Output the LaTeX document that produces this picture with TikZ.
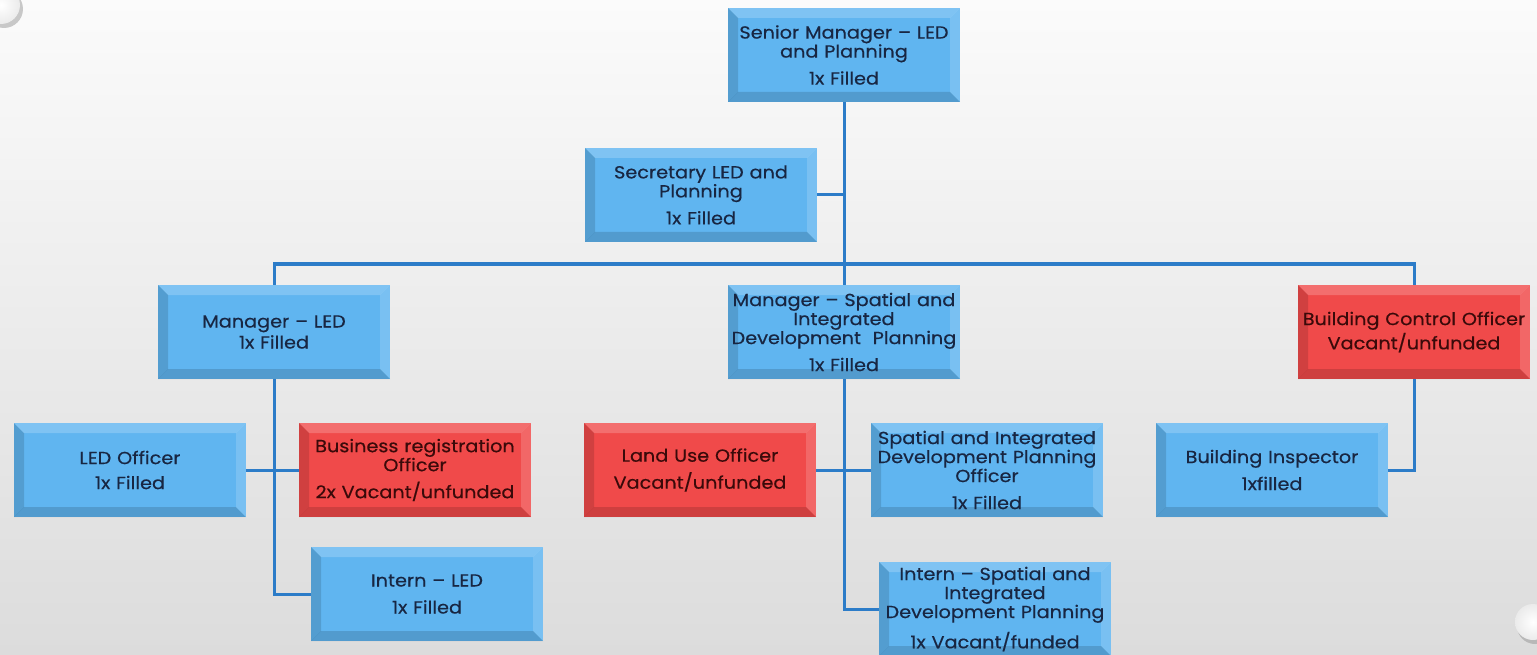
\documentclass[tikz,border=0pt]{standalone}
\usepackage{fontspec}
\setmainfont{Poppins}
\newfontfamily\boxfont{Poppins}[FakeBold=0.45,FakeStretch=1.1]
\usetikzlibrary{calc}

\definecolor{boxblue}{RGB}{96,181,240}
\definecolor{boxred}{RGB}{240,74,74}
\definecolor{bluetext}{RGB}{24,38,66}
\definecolor{redtext}{RGB}{58,10,10}
\definecolor{linkblue}{RGB}{44,124,200}
\definecolor{bgtop}{RGB}{251,251,251}
\definecolor{bgbottom}{RGB}{220,220,220}

% bevelled faces of a box, drawn inside its own outline
\newcommand\bevelfaces{%
  \fill[black,opacity=0.13]
    (path picture bounding box.north west) -- (path picture bounding box.south west)
    -- ($(path picture bounding box.south west)+(10pt,10pt)$)
    -- ($(path picture bounding box.north west)+(10pt,-10pt)$) -- cycle;
  \fill[black,opacity=0.14]
    (path picture bounding box.south west) -- (path picture bounding box.south east)
    -- ($(path picture bounding box.south east)+(-10pt,10pt)$)
    -- ($(path picture bounding box.south west)+(10pt,10pt)$) -- cycle;
  \fill[white,opacity=0.20]
    (path picture bounding box.north west) -- (path picture bounding box.north east)
    -- ($(path picture bounding box.north east)+(-10pt,-10pt)$)
    -- ($(path picture bounding box.north west)+(10pt,-10pt)$) -- cycle;
  \fill[white,opacity=0.16]
    (path picture bounding box.north east) -- (path picture bounding box.south east)
    -- ($(path picture bounding box.south east)+(-10pt,10pt)$)
    -- ($(path picture bounding box.north east)+(-10pt,-10pt)$) -- cycle;
}

\tikzset{
  orgbox/.style={rectangle, minimum width=232pt, minimum height=94pt,
    inner sep=0pt, text width=232pt, align=center,
    font=\boxfont\fontsize{17.5}{19}\selectfont, path picture={\bevelfaces}},
  bluebox/.style={orgbox, fill=boxblue, text=bluetext},
  redbox/.style={orgbox, fill=boxred, text=redtext},
  link/.style={draw=linkblue, line width=3pt},
}

\begin{document}
\begin{tikzpicture}[x=1pt,y=1pt]
  % slide background
  \shade[top color=bgtop, bottom color=bgbottom] (0,0) rectangle (1537,-655);
  \useasboundingbox (0,0) rectangle (1537,-655);

  % corner ornaments
  \fill[black!45,opacity=0.45] (4,-9) circle (19);
  \shade[inner color=white, outer color=black!8] (1,-5) circle (19);
  \fill[black!45,opacity=0.45] (1535,-626) circle (18);
  \shade[inner color=white, outer color=black!8] (1533,-622) circle (18);

  % positions
  \node[bluebox] (senior) at (844,-55)
    {Senior Manager – LED\\ and Planning\\[8pt] 1x Filled};
  \node[bluebox] (sec) at (701,-195)
    {Secretary LED and\\ Planning\\[8pt] 1x Filled};
  \node[bluebox] (mgrled) at (274,-332)
    {Manager – LED\\[2pt] 1x Filled};
  \node[bluebox] (mgrsp) at (844,-332)
    {Manager – Spatial and\\ Integrated\\ Development\ \ Planning\\[8pt] 1x Filled};
  \node[redbox] (bco) at (1414,-332)
    {Building Control Officer\\[2pt] Vacant/unfunded};
  \node[bluebox] (ledoff) at (130,-470)
    {LED Officer\\[6pt] 1x Filled};
  \node[redbox] (bizreg) at (415,-470)
    {Business registration\\ Officer\\[8pt] 2x Vacant/unfunded};
  \node[bluebox] (internled) at (427,-594)
    {Intern – LED\\[8pt] 1x Filled};
  \node[redbox] (landuse) at (700,-470)
    {Land Use Officer\\[8pt] Vacant/unfunded};
  \node[bluebox] (spoff) at (987,-470)
    {Spatial and Integrated\\ Development Planning\\ Officer\\[8pt] 1x Filled};
  \node[bluebox] (internsp) at (995,-609)
    {Intern – Spatial and\\ Integrated\\ Development Planning\\[8pt] 1x Vacant/funded};
  \node[bluebox] (bldinsp) at (1272,-470)
    {Building Inspector\\[8pt] 1xfilled};

  % reporting lines
  \coordinate (bus) at (844,-264);
  \draw[link] (senior.south) -- (mgrsp.north);
  \draw[link] (sec.east) -- (sec.east -| senior.south);
  \draw[link] (mgrled.north) |- (bus) -| (bco.north);
  \draw[link] (mgrled.south) |- (internled.west);
  \draw[link] (ledoff.east) -- (bizreg.west);
  \draw[link] (mgrsp.south) |- (internsp.west);
  \draw[link] (landuse.east) -- (spoff.west);
  \draw[link] (bco.south) |- (bldinsp.east);
\end{tikzpicture}
\end{document}
